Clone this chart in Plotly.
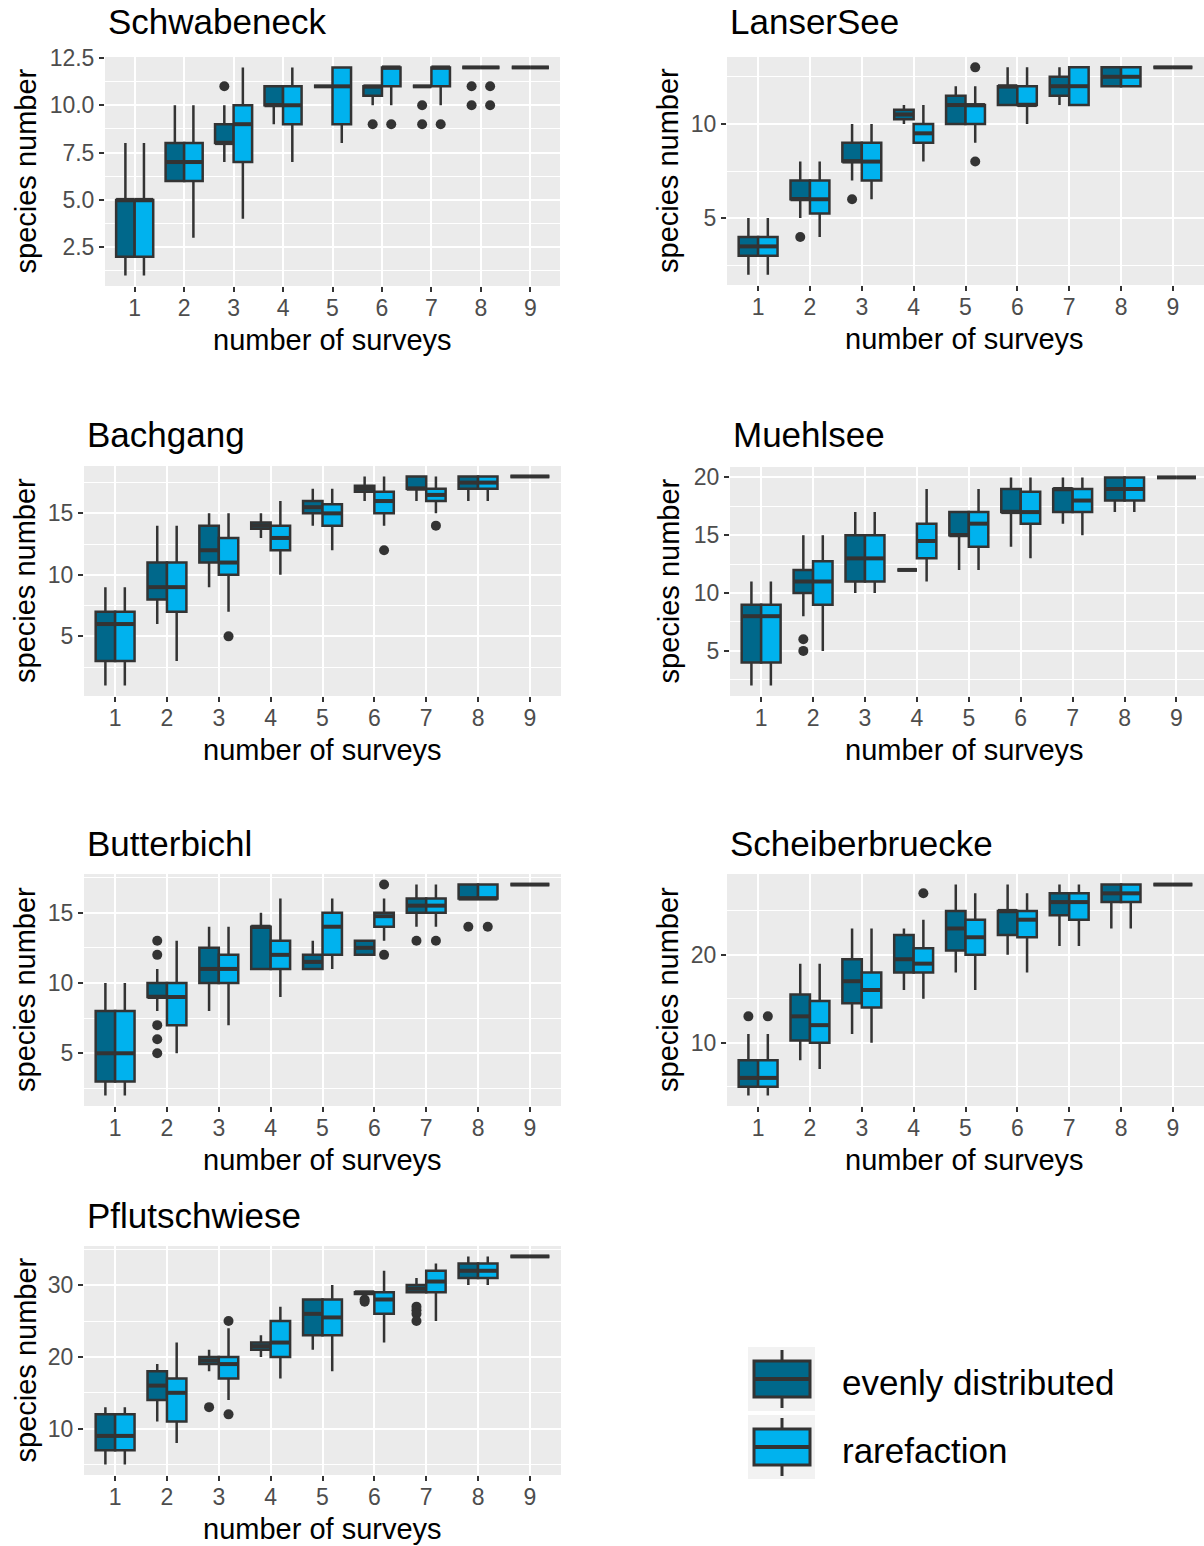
import plotly.graph_objects as go

FIG_W, FIG_H = 1204, 1546

SURVEYS = [1, 2, 3, 4, 5, 6, 7, 8, 9]
METHOD_LABELS = ["evenly distributed", "rarefaction"]
METHOD_COLORS = ["#00688B", "#00B2EE"]

# Box statistics per number of surveys (1..9):
# [lower whisker, q1, median, q3, upper whisker]
SCHWABENECK_EVEN = [[1, 2, 5, 5, 8], [6, 6, 7, 8, 10], [7, 8, 8, 9, 10], [9, 10, 10, 11, 11],
                    [11, 11, 11, 11, 11], [10, 10.5, 11, 11, 11], [11, 11, 11, 11, 11],
                    [12, 12, 12, 12, 12], [12, 12, 12, 12, 12]]
SCHWABENECK_RARE = [[1, 2, 5, 5, 8], [3, 6, 7, 8, 10], [4, 7, 9, 10, 12], [7, 9, 10, 11, 12],
                    [8, 9, 11, 12, 12], [10, 11, 12, 12, 12], [10, 11, 12, 12, 12],
                    [12, 12, 12, 12, 12], [12, 12, 12, 12, 12]]
SCHWABENECK_EVEN_OUT = [(3, 11), (6, 9), (7, 10), (7, 9), (8, 11), (8, 10)]
SCHWABENECK_RARE_OUT = [(6, 9), (7, 9), (8, 11), (8, 10)]

LANSERSEE_EVEN = [[2, 3, 3.5, 4, 5], [5, 6, 6, 7, 8], [7, 8, 8, 9, 10], [10, 10.25, 10.5, 10.75, 11],
                  [10, 10, 11, 11.5, 12], [11, 11, 12, 12, 13], [11, 11.5, 12, 12.5, 13],
                  [12, 12, 12.5, 13, 13], [13, 13, 13, 13, 13]]
LANSERSEE_RARE = [[2, 3, 3.5, 4, 5], [4, 5.25, 6, 7, 8], [6, 7, 8, 9, 10], [8, 9, 9.5, 10, 11],
                  [9, 10, 11, 11, 12], [10, 11, 11, 12, 13], [11, 11, 12, 13, 13],
                  [12, 12, 12.5, 13, 13], [13, 13, 13, 13, 13]]
LANSERSEE_EVEN_OUT = [(2, 4), (3, 6)]
LANSERSEE_RARE_OUT = [(5, 13), (5, 8)]

BACHGANG_EVEN = [[1, 3, 6, 7, 9], [6, 8, 9, 11, 14], [9, 11, 12, 14, 15], [13, 13.75, 14, 14.25, 15],
                 [14, 15, 15.5, 16, 17], [16, 16.75, 17, 17.25, 18], [16, 17, 17, 18, 18],
                 [16, 17, 17.5, 18, 18], [18, 18, 18, 18, 18]]
BACHGANG_RARE = [[1, 3, 6, 7, 9], [3, 7, 9, 11, 14], [7, 10, 11, 13, 15], [10, 12, 13, 14, 16],
                 [12, 14, 15, 15.75, 17], [14, 15, 16, 16.75, 18], [15, 16, 16.5, 17, 18],
                 [16, 17, 17.5, 18, 18], [18, 18, 18, 18, 18]]
BACHGANG_EVEN_OUT = []
BACHGANG_RARE_OUT = [(3, 5), (6, 12), (7, 14)]

MUEHLSEE_EVEN = [[2, 4, 8, 9, 11], [8, 10, 11, 12, 15], [10, 11, 13, 15, 17], [12, 12, 12, 12, 12],
                 [12, 15, 15, 17, 17], [14, 17, 17, 19, 20], [16, 17, 19, 19, 20],
                 [17, 18, 19, 20, 20], [20, 20, 20, 20, 20]]
MUEHLSEE_RARE = [[2, 4, 8, 9, 11], [5, 9, 11, 12.75, 15], [10, 11, 13, 15, 17], [11, 13, 14.5, 16, 19],
                 [12, 14, 16, 17, 19], [13, 16, 17, 18.75, 20], [15, 17, 18, 19, 20],
                 [17, 18, 19, 20, 20], [20, 20, 20, 20, 20]]
MUEHLSEE_EVEN_OUT = [(2, 6), (2, 5)]
MUEHLSEE_RARE_OUT = []

BUTTERBICHL_EVEN = [[2, 3, 5, 8, 10], [8, 9, 9, 10, 11], [8, 10, 11, 12.5, 14], [11, 11, 14, 14, 15],
                    [11, 11, 11.5, 12, 13], [12, 12, 12.5, 13, 13], [14, 15, 15.5, 16, 17],
                    [16, 16, 16, 17, 17], [17, 17, 17, 17, 17]]
BUTTERBICHL_RARE = [[2, 3, 5, 8, 10], [5, 7, 9, 10, 13], [7, 10, 11, 12, 14], [9, 11, 12, 13, 16],
                    [11, 12, 14, 15, 16], [13, 14, 14.75, 15, 16], [14, 15, 15.5, 16, 17],
                    [16, 16, 16, 17, 17], [17, 17, 17, 17, 17]]
BUTTERBICHL_EVEN_OUT = [(2, 13), (2, 12), (2, 7), (2, 6), (2, 5), (7, 13), (8, 14)]
BUTTERBICHL_RARE_OUT = [(6, 17), (6, 12), (7, 13), (8, 14)]

SCHEIBERBRUECKE_EVEN = [[4, 5, 6, 8, 11], [8, 10.25, 13, 15.5, 19], [11, 14.5, 17, 19.5, 23],
                        [16, 18, 19.5, 22.25, 23], [18, 20.5, 23, 25, 28], [20, 22.25, 25, 25, 28],
                        [21, 24.5, 26, 27, 28], [23, 26, 27, 28, 28], [28, 28, 28, 28, 28]]
SCHEIBERBRUECKE_RARE = [[4, 5, 6, 8, 11], [7, 10, 12, 14.75, 19], [10, 14, 16, 18, 23],
                        [15, 18, 19, 20.75, 24], [16, 20, 22, 24, 27], [18, 22, 24, 25, 27],
                        [21, 24, 26, 27, 28], [23, 26, 27, 28, 28], [28, 28, 28, 28, 28]]
SCHEIBERBRUECKE_EVEN_OUT = [(1, 13)]
SCHEIBERBRUECKE_RARE_OUT = [(1, 13), (4, 27)]

PFLUTSCHWIESE_EVEN = [[5, 7, 9, 12, 13], [11, 14, 16, 18, 19], [18, 19, 19.5, 20, 21],
                      [20, 21, 21.5, 22, 23], [21, 23, 26, 28, 28], [28.75, 28.75, 29, 29, 29],
                      [29, 29, 29.5, 30, 31], [30, 31, 32, 33, 34], [34, 34, 34, 34, 34]]
PFLUTSCHWIESE_RARE = [[5, 7, 9, 12, 13], [8, 11, 15, 17, 22], [14, 17, 19, 20, 24],
                      [17, 20, 22, 25, 27], [18, 23, 25.5, 28, 30], [22, 26, 28, 29, 32],
                      [25, 29, 30.5, 32, 33], [30, 31, 32, 33, 34], [34, 34, 34, 34, 34]]
PFLUTSCHWIESE_EVEN_OUT = [(3, 13), (6, 28), (6, 27.7), (7, 27), (7, 26.5), (7, 26), (7, 25)]
PFLUTSCHWIESE_RARE_OUT = [(3, 25), (3, 12)]

# y-axis tick labels for each site
SCHWABENECK_YTICKS = [2.5, 5.0, 7.5, 10.0, 12.5]
LANSERSEE_YTICKS = [5, 10]
BACHGANG_YTICKS = [5, 10, 15]
MUEHLSEE_YTICKS = [5, 10, 15, 20]
BUTTERBICHL_YTICKS = [5, 10, 15]
SCHEIBERBRUECKE_YTICKS = [10, 20]
PFLUTSCHWIESE_YTICKS = [10, 20, 30]

SITES = [
    ("Schwabeneck", SCHWABENECK_EVEN, SCHWABENECK_RARE, SCHWABENECK_EVEN_OUT, SCHWABENECK_RARE_OUT, SCHWABENECK_YTICKS, ".1f"),
    ("LanserSee", LANSERSEE_EVEN, LANSERSEE_RARE, LANSERSEE_EVEN_OUT, LANSERSEE_RARE_OUT, LANSERSEE_YTICKS, "d"),
    ("Bachgang", BACHGANG_EVEN, BACHGANG_RARE, BACHGANG_EVEN_OUT, BACHGANG_RARE_OUT, BACHGANG_YTICKS, "d"),
    ("Muehlsee", MUEHLSEE_EVEN, MUEHLSEE_RARE, MUEHLSEE_EVEN_OUT, MUEHLSEE_RARE_OUT, MUEHLSEE_YTICKS, "d"),
    ("Butterbichl", BUTTERBICHL_EVEN, BUTTERBICHL_RARE, BUTTERBICHL_EVEN_OUT, BUTTERBICHL_RARE_OUT, BUTTERBICHL_YTICKS, "d"),
    ("Scheiberbruecke", SCHEIBERBRUECKE_EVEN, SCHEIBERBRUECKE_RARE, SCHEIBERBRUECKE_EVEN_OUT, SCHEIBERBRUECKE_RARE_OUT, SCHEIBERBRUECKE_YTICKS, "d"),
    ("Pflutschwiese", PFLUTSCHWIESE_EVEN, PFLUTSCHWIESE_RARE, PFLUTSCHWIESE_EVEN_OUT, PFLUTSCHWIESE_RARE_OUT, PFLUTSCHWIESE_YTICKS, "d"),
]

# Panel frames in pixels: left, right, top, bottom, y-range, x-range, title row, y-title column
PANELS = [
    dict(x0=105, x1=560, y0=57, y1=286, yr=[0.45, 12.55], xr=[0.4, 9.6], ty=22, ytx=25),
    dict(x0=727, x1=1204, y0=57, y1=285, yr=[1.45, 13.55], xr=[0.4, 9.6], ty=22, ytx=668),
    dict(x0=84, x1=561, y0=466, y1=696, yr=[0.15, 18.85], xr=[0.4, 9.6], ty=435, ytx=25),
    dict(x0=730, x1=1204, y0=467, y1=696, yr=[1.1, 20.9], xr=[0.4, 9.53], ty=435, ytx=668),
    dict(x0=84, x1=561, y0=874, y1=1106, yr=[1.25, 17.75], xr=[0.4, 9.6], ty=843, ytx=25),
    dict(x0=727, x1=1204, y0=874, y1=1106, yr=[2.8, 29.2], xr=[0.4, 9.6], ty=843, ytx=668),
    dict(x0=84, x1=561, y0=1246, y1=1475, yr=[3.55, 35.45], xr=[0.4, 9.6], ty=1215, ytx=25),
]

FONT = "Liberation Sans, Arial, sans-serif"
DARK = "#333333"
DODGE = 0.1875
BOX_W = 0.375


def px(x):
    return x / FIG_W


def py(y):
    return 1 - y / FIG_H


def minor_vals(ticks, lo, hi):
    step = ticks[1] - ticks[0]
    vals = []
    v = ticks[0] - step / 2
    while v <= hi:
        if v >= lo:
            vals.append(v)
        v += step
    return vals


fig = go.Figure()
annotations = []
layout_axes = {}

for i, (site, even, rare, even_out, rare_out, yticks, yfmt) in enumerate(SITES):
    n = i + 1
    p = PANELS[i]
    xref = "x" if n == 1 else f"x{n}"
    yref = "y" if n == 1 else f"y{n}"

    for m, (stats, outs) in enumerate([(even, even_out), (rare, rare_out)]):
        off = -DODGE if m == 0 else DODGE
        pos = [s + off for s in SURVEYS]
        lo = [r[0] for r in stats]
        q1 = [r[1] for r in stats]
        med = [r[2] for r in stats]
        q3 = [r[3] for r in stats]
        hi = [r[4] for r in stats]
        fig.add_trace(go.Box(
            x=pos, lowerfence=lo, q1=q1, median=med, q3=q3, upperfence=hi,
            width=BOX_W, whiskerwidth=0, boxpoints=False,
            fillcolor=METHOD_COLORS[m], line=dict(color=DARK, width=2.5),
            name=METHOD_LABELS[m], showlegend=False, hoverinfo="skip",
            xaxis=xref, yaxis=yref,
        ))
        # thicker median bars
        mx, my = [], []
        for x, v in zip(pos, med):
            mx += [x - BOX_W / 2, x + BOX_W / 2, None]
            my += [v, v, None]
        fig.add_trace(go.Scatter(
            x=mx, y=my, mode="lines", line=dict(color=DARK, width=4),
            showlegend=False, hoverinfo="skip", xaxis=xref, yaxis=yref,
        ))
        if outs:
            fig.add_trace(go.Scatter(
                x=[s + off for s, _ in outs], y=[v for _, v in outs], mode="markers",
                marker=dict(size=10, color=DARK), showlegend=False, hoverinfo="skip",
                xaxis=xref, yaxis=yref,
            ))

    common = dict(
        showline=False, zeroline=False, ticks="outside", ticklen=5, tickwidth=2,
        tickcolor=DARK, tickfont=dict(family=FONT, size=23, color="#4D4D4D"),
        showgrid=True, gridcolor="white", gridwidth=2, automargin=False,
    )
    layout_axes["xaxis" if n == 1 else f"xaxis{n}"] = dict(
        common, domain=[px(p["x0"]), px(p["x1"])], range=p["xr"], anchor=yref,
        tickmode="array", tickvals=SURVEYS, ticktext=[str(s) for s in SURVEYS],
        ticklabelstandoff=-4,
    )
    layout_axes["yaxis" if n == 1 else f"yaxis{n}"] = dict(
        common, domain=[py(p["y1"]), py(p["y0"])], range=p["yr"], anchor=xref,
        tickmode="array", tickvals=yticks,
        ticktext=[format(t, ".1f") if yfmt == ".1f" else str(int(t)) for t in yticks],
        minor=dict(tickmode="array", tickvals=minor_vals(yticks, p["yr"][0], p["yr"][1]),
                   showgrid=True, gridcolor="white", gridwidth=1, ticks=""),
    )

    annotations.append(dict(
        text=site, x=px(p["x0"] + 1), y=py(p["ty"]), xref="paper", yref="paper",
        xanchor="left", yanchor="middle", showarrow=False,
        font=dict(family=FONT, size=35, color="black"),
    ))
    annotations.append(dict(
        text="number of surveys", x=px((p["x0"] + p["x1"]) / 2 if p["x1"] < 1204 else 965),
        y=py(p["y1"] + 54), xref="paper", yref="paper", xanchor="center", yanchor="middle",
        showarrow=False, font=dict(family=FONT, size=29, color="black"),
    ))
    annotations.append(dict(
        text="species number", x=px(p["ytx"]), y=py((p["y0"] + p["y1"]) / 2),
        xref="paper", yref="paper", xanchor="center", yanchor="middle", textangle=-90,
        showarrow=False, font=dict(family=FONT, size=29, color="black"),
    ))

# Legend keys drawn as shapes with their labels
shapes = []
KEY_X0, KEY_X1 = 748, 815
KEY_ROWS = [(1347, 1411), (1415, 1479)]
for m, (k0, k1) in enumerate(KEY_ROWS):
    mid = (k0 + k1) / 2
    shapes.append(dict(type="rect", xref="paper", yref="paper", x0=px(KEY_X0), x1=px(KEY_X1),
                       y0=py(k1), y1=py(k0), fillcolor="#F2F2F2", line=dict(width=0)))
    shapes.append(dict(type="line", xref="paper", yref="paper", x0=px(782), x1=px(782),
                       y0=py(k1 - 3), y1=py(k0 + 3), line=dict(color=DARK, width=3)))
    shapes.append(dict(type="rect", xref="paper", yref="paper", x0=px(754), x1=px(810),
                       y0=py(mid + 18), y1=py(mid - 18), fillcolor=METHOD_COLORS[m],
                       line=dict(color=DARK, width=3)))
    shapes.append(dict(type="line", xref="paper", yref="paper", x0=px(754), x1=px(810),
                       y0=py(mid), y1=py(mid), line=dict(color=DARK, width=4)))
    annotations.append(dict(
        text=METHOD_LABELS[m], x=px(840), y=py(mid + 3), xref="paper", yref="paper",
        xanchor="left", yanchor="middle", showarrow=False,
        font=dict(family=FONT, size=35, color="black"),
    ))

fig.update_layout(
    width=FIG_W, height=FIG_H, margin=dict(l=0, r=0, t=0, b=0),
    paper_bgcolor="white", plot_bgcolor="#EBEBEB", boxmode="overlay",
    annotations=annotations, shapes=shapes, showlegend=False,
    **layout_axes,
)

fig.write_html("out.html")
